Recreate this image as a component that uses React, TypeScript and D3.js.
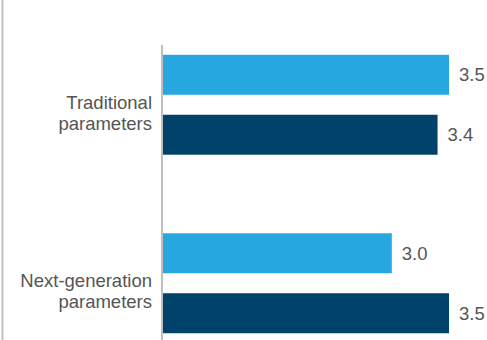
import React from "react";
import * as d3 from "d3";

const categories = ["Traditional parameters", "Next-generation parameters"];
const categoryLines = [["Traditional", "parameters"], ["Next-generation", "parameters"]];
const seriesNames = ["Series 1", "Series 2"];
const series1 = [3.5, 3.0];
const series2 = [3.4, 3.5];
const seriesValues = [series1, series2];
const seriesColors = ["#27a7e0", "#00436a"];

const W = 487;
const H = 340;

export default function App() {
  const x = d3.scaleLinear().domain([1, 3.5]).range([163, 449]);
  const y0 = d3
    .scaleBand<string>()
    .domain(categories)
    .range([15.5, 372.5])
    .paddingInner(0.44)
    .paddingOuter(0.22);
  const y1 = d3
    .scaleBand<string>()
    .domain(seriesNames)
    .range([0, y0.bandwidth()])
    .paddingInner(1 / 3);
  const font = "'Liberation Sans', Arial, sans-serif";
  return (
    <svg
      width={W}
      height={H}
      style={{ position: "fixed", left: 0, top: 0, background: "#fff" }}
      fontFamily={font}
    >
      <line x1={2.5} x2={2.5} y1={0} y2={H} stroke="#c0c0c0" strokeWidth={2} />
      {categories.map((c, ci) => (
        <g key={c} transform={`translate(0,${y0(c)})`}>
          {seriesNames.map((s, si) => {
            const v = seriesValues[si][ci];
            const yy = y1(s)!;
            return (
              <g key={s}>
                <rect
                  x={x(1)}
                  y={yy}
                  width={x(v) - x(1)}
                  height={y1.bandwidth()}
                  fill={seriesColors[si]}
                />
                <text
                  x={x(v) + 10}
                  y={yy + y1.bandwidth() / 2}
                  dy="0.35em"
                  fontSize={18.5}
                  fill="#555555"
                >
                  {d3.format(".1f")(v)}
                </text>
              </g>
            );
          })}
          {categoryLines[ci].map((ln, li) => (
            <text
              key={li}
              x={152}
              y={y0.bandwidth() / 2 + 4 + li * 21}
              textAnchor="end"
              fontSize={18.5}
              fill="#555555"
            >
              {ln}
            </text>
          ))}
        </g>
      ))}
      <line x1={162} x2={162} y1={45} y2={H} stroke="#bfbfbf" strokeWidth={2} />
    </svg>
  );
}
